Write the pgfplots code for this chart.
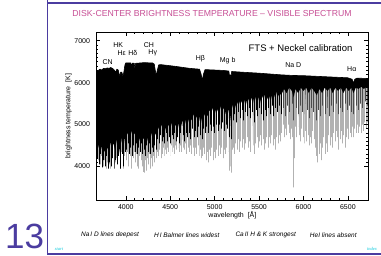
\documentclass[border=0pt]{standalone}
\usepackage{pgfplots}
\pgfplotsset{compat=1.18}
\usepackage{fontspec}
\setmainfont{Liberation Sans}
\newfontfamily\serifit{Liberation Serif}
\definecolor{titlepink}{RGB}{200,80,150}
\definecolor{slidepurple}{RGB}{75,60,160}
\definecolor{linkcyan}{RGB}{0,200,220}
\begin{document}
\begin{tikzpicture}[x=1pt,y=1pt]
\useasboundingbox (0,0) rectangle (381,256);
\fill[white] (0,0) rectangle (381,256);
\draw[slidepurple, line width=1.6pt] (47.5,256) -- (47.5,2) -- (381,2);
\draw[slidepurple, line width=1.6pt] (47.5,252.7) -- (381,252.7);
\node[anchor=base west, inner sep=0, text=slidepurple] at (5,7) {\fontsize{35}{35}\selectfont 13};
\node[text=titlepink] at (212,242) {\fontsize{8.7}{10}\selectfont DISK-CENTER BRIGHTNESS TEMPERATURE – VISIBLE SPECTRUM};
\node at (110,21) {\fontsize{6.5}{8}\selectfont\itshape Na\,I D lines deepest};
\node at (186.7,21) {\fontsize{6.5}{8}\selectfont\itshape H\,I Balmer lines widest};
\node at (265.7,21) {\fontsize{6.5}{8}\selectfont\itshape Ca\,II H \& K strongest};
\node at (333.3,21) {\fontsize{6.5}{8}\selectfont\itshape HeI lines absent};
\node[text=linkcyan] at (59,7) {\fontsize{4.5}{5}\selectfont\serifit\itshape start};
\node[text=linkcyan] at (372,7) {\fontsize{4.5}{5}\selectfont\serifit\itshape index};
\begin{axis}[
  at={(96.5pt,56pt)}, anchor=south west, width=271.8pt, height=167.7pt, scale only axis,
  xmin=3670, xmax=6730, ymin=3200, ymax=7200,
  xtick={4000,4500,5000,5500,6000,6500}, ytick={4000,5000,6000,7000},
  minor x tick num=4, minor y tick num=9,
  tick align=inside, major tick length=4pt, minor tick length=2pt,
  tick style={black, line width=0.5pt},
  axis line style={line width=0.6pt},
  tick label style={font=\fontsize{7}{8}\selectfont},
  yticklabel style={xshift=-3pt},
  xticklabel style={yshift=-1.5pt},
  /pgf/number format/1000 sep={}, /pgf/number format/assume math mode=true,
  xlabel={wavelength\ \ [Å]}, ylabel={brightness temperature\ \ [K]},
  label style={font=\fontsize{7}{8}\selectfont},
  x label style={at={(axis description cs:0.5,-0.0894)}, anchor=center},
  y label style={at={(axis description cs:-0.103,0.5)}, anchor=center},
  axis on top,
]
% deep (grey) absorption lines
\addplot[gray!60, line width=0.45pt] coordinates {
(3690,5950)(3690,4150)(3690,5950)(3712,5950)(3712,4050)(3712,5950)(3728,5950)(3728,4250)(3728,5950)(3745,5950)(3745,4000)(3745,5950)(3762,5950)(3762,4150)(3762,5950)(3778,5950)(3778,3950)(3778,5950)(3795,5950)(3795,4100)(3795,5950)(3812,5950)(3812,4050)(3812,5950)(3830,5950)(3830,3950)(3830,5950)(3848,5950)(3848,4200)(3848,5950)(3865,5950)(3865,4050)(3865,5950)(3880,5950)(3880,4100)(3880,5950)(3897,5950)(3897,4200)(3897,5950)(3915,5950)(3915,4300)(3915,5950)(3933,5950)(3933,3950)(3933,5950)(3950,5950)(3950,4350)(3950,5950)(3968,5950)(3968,3950)(3968,5950)(3985,5950)(3985,4250)(3985,5950)
(4003,5950)(4003,4150)(4003,5950)(4015,5950)(4015,4350)(4015,5950)(4030,5950)(4030,4000)(4030,5950)(4045,5950)(4045,4250)(4045,5950)(4058,5950)(4058,4100)(4058,5950)(4064,5950)(4064,3950)(4064,5950)(4078,5950)(4078,4200)(4078,5950)(4092,5950)(4092,4350)(4092,5950)(4102,5950)(4102,4100)(4102,5950)(4118,5950)(4118,4300)(4118,5950)(4130,5950)(4130,4000)(4130,5950)(4143,5950)(4143,3950)(4143,5950)(4155,5950)(4155,4250)(4155,5950)(4168,5950)(4168,4150)(4168,5950)(4180,5950)(4180,4000)(4180,5950)(4192,5950)(4192,3870)(4192,5950)(4202,5950)(4202,3850)(4202,5950)(4215,5950)(4215,4150)(4215,5950)(4226,5950)(4226,3900)(4226,5950)(4238,5950)(4238,4200)(4238,5950)(4250,5950)(4250,4050)(4250,5950)(4262,5950)(4262,4300)(4262,5950)(4272,5950)(4272,3950)(4272,5950)(4285,5950)(4285,4200)(4285,5950)(4298,5950)(4298,4000)(4298,5950)(4310,5950)(4310,4250)(4310,5950)(4325,5950)(4325,4100)(4325,5950)(4340,5950)(4340,4200)(4340,5950)
(4352,5950)(4352,4350)(4352,5950)(4366,5950)(4366,4250)(4366,5950)(4380,5950)(4380,4400)(4380,5950)(4395,5950)(4395,4200)(4395,5950)(4405,5950)(4405,4300)(4405,5950)(4418,5950)(4418,4450)(4418,5950)(4430,5950)(4430,4250)(4430,5950)(4443,5950)(4443,4400)(4443,5950)(4455,5950)(4455,4300)(4455,5950)(4468,5950)(4468,4450)(4468,5950)(4482,5950)(4482,4350)(4482,5950)(4495,5950)(4495,4250)(4495,5950)(4508,5950)(4508,4500)(4508,5950)(4520,5950)(4520,4350)(4520,5950)(4535,5950)(4535,4450)(4535,5950)(4548,5950)(4548,4300)(4548,5950)(4560,5950)(4560,4500)(4560,5950)(4572,5950)(4572,4400)(4572,5950)(4585,5950)(4585,4450)(4585,5950)(4600,5950)(4600,4350)(4600,5950)(4614,5950)(4614,4500)(4614,5950)(4628,5950)(4628,4350)(4628,5950)(4642,5950)(4642,4450)(4642,5950)(4656,5950)(4656,4400)(4656,5950)(4670,5950)(4670,4550)(4670,5950)(4685,5950)(4685,4300)(4685,5950)(4698,5950)(4698,4450)(4698,5950)
(4712,5950)(4712,4350)(4712,5950)(4726,5950)(4726,4500)(4726,5950)(4740,5950)(4740,4300)(4740,5950)(4754,5950)(4754,4450)(4754,5950)(4768,5950)(4768,4250)(4768,5950)(4782,5950)(4782,4450)(4782,5950)(4796,5950)(4796,4300)(4796,5950)(4810,5950)(4810,4500)(4810,5950)(4824,5950)(4824,4250)(4824,5950)(4838,5950)(4838,4400)(4838,5950)(4852,5950)(4852,4200)(4852,5950)(4861,5950)(4861,4250)(4861,5950)(4872,5950)(4872,4450)(4872,5950)(4886,5950)(4886,4300)(4886,5950)(4900,5950)(4900,4150)(4900,5950)(4912,5950)(4912,4350)(4912,5950)(4925,5950)(4925,4100)(4925,5950)(4938,5950)(4938,4400)(4938,5950)(4952,5950)(4952,4250)(4952,5950)(4966,5950)(4966,4450)(4966,5950)(4980,5950)(4980,4150)(4980,5950)(4994,5950)(4994,4350)(4994,5950)(5008,5950)(5008,4200)(5008,5950)(5022,5950)(5022,4400)(5022,5950)(5036,5950)(5036,4250)(5036,5950)(5050,5950)(5050,4500)(5050,5950)(5064,5950)(5064,4300)(5064,5950)(5078,5950)(5078,4450)(5078,5950)(5092,5950)(5092,4200)(5092,5950)(5106,5950)(5106,4400)(5106,5950)(5120,5950)(5120,4300)(5120,5950)(5134,5950)(5134,4450)(5134,5950)(5148,5950)(5148,4350)(5148,5950)(5160,5950)(5160,4250)(5160,5950)(5168,5950)(5168,3900)(5168,5950)(5173,5950)(5173,4000)(5173,5950)(5184,5950)(5184,3850)(5184,5950)(5195,5950)(5195,4400)(5195,5950)
(5208,5950)(5208,4450)(5208,5950)(5222,5950)(5222,4300)(5222,5950)(5236,5950)(5236,4550)(5236,5950)(5250,5950)(5250,4400)(5250,5950)(5264,5950)(5264,4650)(5264,5950)(5278,5950)(5278,4350)(5278,5950)(5292,5950)(5292,4600)(5292,5950)(5306,5950)(5306,4450)(5306,5950)(5320,5950)(5320,4650)(5320,5950)(5334,5950)(5334,4400)(5334,5950)(5348,5950)(5348,4550)(5348,5950)(5362,5950)(5362,4700)(5362,5950)(5376,5950)(5376,4450)(5376,5950)(5390,5950)(5390,4600)(5390,5950)(5404,5950)(5404,4350)(5404,5950)(5418,5950)(5418,4650)(5418,5950)(5432,5950)(5432,4500)(5432,5950)(5446,5950)(5446,4300)(5446,5950)(5460,5950)(5460,4550)(5460,5950)(5474,5950)(5474,4700)(5474,5950)(5488,5950)(5488,4450)(5488,5950)(5502,5950)(5502,4600)(5502,5950)(5516,5950)(5516,4750)(5516,5950)(5530,5950)(5530,4500)(5530,5950)(5544,5950)(5544,4650)(5544,5950)(5558,5950)(5558,4400)(5558,5950)(5572,5950)(5572,4550)(5572,5950)(5586,5950)(5586,4700)(5586,5950)(5600,5950)(5600,4450)(5600,5950)(5614,5950)(5614,4700)(5614,5950)(5628,5950)(5628,4550)(5628,5950)(5642,5950)(5642,4750)(5642,5950)(5656,5950)(5656,4500)(5656,5950)(5670,5950)(5670,4650)(5670,5950)(5684,5950)(5684,4400)(5684,5950)(5698,5950)(5698,4700)(5698,5950)(5712,5950)(5712,4550)(5712,5950)(5726,5950)(5726,4750)(5726,5950)(5740,5950)(5740,4600)(5740,5950)
(5754,5950)(5754,4800)(5754,5950)(5768,5950)(5768,5000)(5768,5950)(5782,5950)(5782,4700)(5782,5950)(5796,5950)(5796,4900)(5796,5950)(5810,5950)(5810,4750)(5810,5950)(5824,5950)(5824,5000)(5824,5950)(5838,5950)(5838,4800)(5838,5950)(5852,5950)(5852,4650)(5852,5950)(5866,5950)(5866,4900)(5866,5950)(5878,5950)(5878,4700)(5878,5950)(5890,5950)(5890,3500)(5890,5950)(5896,5950)(5896,4200)(5896,5950)(5908,5950)(5908,4950)(5908,5950)(5922,5950)(5922,4700)(5922,5950)(5936,5950)(5936,4950)(5936,5950)(5950,5950)(5950,4750)(5950,5950)(5964,5950)(5964,4600)(5964,5950)(5978,5950)(5978,4900)(5978,5950)(5992,5950)(5992,4700)(5992,5950)(6006,5950)(6006,4550)(6006,5950)(6020,5950)(6020,4850)(6020,5950)(6034,5950)(6034,4600)(6034,5950)(6048,5950)(6048,4750)(6048,5950)(6062,5950)(6062,4500)(6062,5950)(6076,5950)(6076,4700)(6076,5950)(6090,5950)(6090,4550)(6090,5950)(6104,5950)(6104,4850)(6104,5950)(6118,5950)(6118,4650)(6118,5950)(6132,5950)(6132,4450)(6132,5950)(6146,5950)(6146,4250)(6146,5950)(6160,5950)(6160,4100)(6160,5950)(6172,5950)(6172,4300)(6172,5950)(6186,5950)(6186,4550)(6186,5950)(6200,5950)(6200,4150)(6200,5950)(6214,5950)(6214,4450)(6214,5950)(6228,5950)(6228,4700)(6228,5950)(6242,5950)(6242,4300)(6242,5950)(6256,5950)(6256,4550)(6256,5950)(6270,5950)(6270,4350)(6270,5950)(6284,5950)(6284,4750)(6284,5950)(6298,5950)(6298,4500)(6298,5950)(6312,5950)(6312,4700)(6312,5950)(6326,5950)(6326,4450)(6326,5950)(6340,5950)(6340,4800)(6340,5950)(6354,5950)(6354,4600)(6354,5950)(6368,5950)(6368,4850)(6368,5950)(6382,5950)(6382,4700)(6382,5950)(6396,5950)(6396,4400)(6396,5950)(6410,5950)(6410,4650)(6410,5950)(6424,5950)(6424,4850)(6424,5950)(6438,5950)(6438,4550)(6438,5950)(6452,5950)(6452,4750)(6452,5950)(6466,5950)(6466,4450)(6466,5950)(6480,5950)(6480,4700)(6480,5950)(6494,5950)(6494,4900)(6494,5950)(6508,5950)(6508,4650)(6508,5950)(6522,5950)(6522,4800)(6522,5950)(6536,5950)(6536,4700)(6536,5950)(6552,5950)(6552,4950)(6552,5950)(6563,5950)(6563,4700)(6563,5950)(6575,5950)(6575,4900)(6575,5950)(6590,5950)(6590,4800)(6590,5950)(6604,5950)(6604,5000)(6604,5950)(6618,5950)(6618,4800)(6618,5950)(6632,5950)(6632,4950)(6632,5950)(6646,5950)(6646,4800)(6646,5950)(6660,5950)(6660,5000)(6660,5950)(6674,5950)(6674,4850)(6674,5950)(6688,5950)(6688,5050)(6688,5950)(6702,5950)(6702,4900)(6702,5950)(6716,5950)(6716,5050)(6716,5950)
};
% medium (black) absorption lines, blue and green part
\addplot[black, line width=0.45pt] coordinates {
(3680,5950)(3680,4200)(3680,5950)(3697,5950)(3697,4050)(3697,5950)(3714,5950)(3714,4300)(3714,5950)(3731,5950)(3731,3980)(3731,5950)(3748,5950)(3748,4150)(3748,5950)(3765,5950)(3765,4000)(3765,5950)(3782,5950)(3782,4250)(3782,5950)(3799,5950)(3799,3950)(3799,5950)(3816,5950)(3816,4100)(3816,5950)(3833,5950)(3833,4000)(3833,5950)(3850,5950)(3850,4200)(3850,5950)(3867,5950)(3867,3950)(3867,5950)(3884,5950)(3884,4150)(3884,5950)(3901,5950)(3901,4050)(3901,5950)(3920,5950)(3920,4250)(3920,5950)(3933,5950)(3933,3950)(3933,5950)(3955,5950)(3955,4300)(3955,5950)(3968,5950)(3968,4000)(3968,5950)(3990,5950)(3990,4350)(3990,5950)
(4010,5950)(4010,4400)(4010,5950)(4025,5950)(4025,4550)(4025,5950)(4040,5950)(4040,4300)(4040,5950)(4055,5950)(4055,4450)(4055,5950)(4070,5950)(4070,4250)(4070,5950)(4085,5950)(4085,4500)(4085,5950)(4102,5950)(4102,4350)(4102,5950)(4115,5950)(4115,4550)(4115,5950)(4130,5950)(4130,4300)(4130,5950)(4145,5950)(4145,4450)(4145,5950)(4160,5950)(4160,4350)(4160,5950)(4175,5950)(4175,4550)(4175,5950)(4190,5950)(4190,4300)(4190,5950)(4205,5950)(4205,4400)(4205,5950)(4220,5950)(4220,4250)(4220,5950)(4235,5950)(4235,4500)(4235,5950)(4250,5950)(4250,4350)(4250,5950)(4265,5950)(4265,4550)(4265,5950)(4280,5950)(4280,4300)(4280,5950)(4295,5950)(4295,4450)(4295,5950)(4310,5950)(4310,4350)(4310,5950)(4325,5950)(4325,4500)(4325,5950)(4340,5950)(4340,4400)(4340,5950)
(4358,5950)(4358,4650)(4358,5950)(4374,5950)(4374,4550)(4374,5950)(4390,5950)(4390,4750)(4390,5950)(4406,5950)(4406,4600)(4406,5950)(4422,5950)(4422,4700)(4422,5950)(4438,5950)(4438,4550)(4438,5950)(4454,5950)(4454,4800)(4454,5950)(4470,5950)(4470,4600)(4470,5950)(4486,5950)(4486,4700)(4486,5950)(4502,5950)(4502,4550)(4502,5950)(4518,5950)(4518,4750)(4518,5950)(4534,5950)(4534,4650)(4534,5950)(4550,5950)(4550,4800)(4550,5950)(4566,5950)(4566,4600)(4566,5950)(4582,5950)(4582,4700)(4582,5950)(4598,5950)(4598,4550)(4598,5950)(4614,5950)(4614,4800)(4614,5950)(4630,5950)(4630,4650)(4630,5950)(4646,5950)(4646,4750)(4646,5950)(4662,5950)(4662,4600)(4662,5950)(4678,5950)(4678,4800)(4678,5950)(4694,5950)(4694,4700)(4694,5950)
(4712,5950)(4712,4800)(4712,5950)(4730,5950)(4730,4650)(4730,5950)(4748,5950)(4748,4900)(4748,5950)(4766,5950)(4766,4700)(4766,5950)(4784,5950)(4784,4850)(4784,5950)(4802,5950)(4802,4700)(4802,5950)(4820,5950)(4820,4950)(4820,5950)(4838,5950)(4838,4750)(4838,5950)(4856,5950)(4856,4650)(4856,5950)(4874,5950)(4874,4900)(4874,5950)(4892,5950)(4892,4800)(4892,5950)(4910,5950)(4910,4950)(4910,5950)(4928,5950)(4928,4800)(4928,5950)(4946,5950)(4946,5000)(4946,5950)(4964,5950)(4964,4850)(4964,5950)(4982,5950)(4982,4950)(4982,5950)(5000,5950)(5000,4800)(5000,5950)(5018,5950)(5018,5000)(5018,5950)(5036,5950)(5036,4850)(5036,5950)(5054,5950)(5054,5000)(5054,5950)(5072,5950)(5072,4900)(5072,5950)(5090,5950)(5090,5050)(5090,5950)(5108,5950)(5108,4850)(5108,5950)(5126,5950)(5126,5000)(5126,5950)(5144,5950)(5144,4900)(5144,5950)(5167,5950)(5167,4700)(5167,5950)(5183,5950)(5183,4650)(5183,5950)
(5205,5950)(5205,5100)(5205,5950)(5225,5950)(5225,5250)(5225,5950)(5245,5950)(5245,5050)(5245,5950)(5265,5950)(5265,5300)(5265,5950)(5285,5950)(5285,5150)(5285,5950)(5305,5950)(5305,5350)(5305,5950)(5325,5950)(5325,5100)(5325,5950)(5345,5950)(5345,5300)(5345,5950)(5365,5950)(5365,5200)(5365,5950)(5385,5950)(5385,5400)(5385,5950)(5405,5950)(5405,5150)(5405,5950)(5425,5950)(5425,5300)(5425,5950)(5445,5950)(5445,5050)(5445,5950)(5465,5950)(5465,5350)(5465,5950)(5485,5950)(5485,5200)(5485,5950)(5505,5950)(5505,5400)(5505,5950)(5525,5950)(5525,5250)(5525,5950)(5545,5950)(5545,5100)(5545,5950)(5565,5950)(5565,5350)(5565,5950)(5585,5950)(5585,5200)(5585,5950)(5605,5950)(5605,5400)(5605,5950)(5625,5950)(5625,5250)(5625,5950)(5645,5950)(5645,5450)(5645,5950)(5665,5950)(5665,5200)(5665,5950)(5685,5950)(5685,5400)(5685,5950)(5705,5950)(5705,5300)(5705,5950)(5725,5950)(5725,5450)(5725,5950)(5745,5950)(5745,5250)(5745,5950)
};
% medium lines, red part (lighter in the reference)
\addplot[black!70, line width=0.4pt] coordinates {
(5770,5950)(5770,5400)(5770,5950)(5795,5950)(5795,5200)(5795,5950)(5820,5950)(5820,5450)(5820,5950)(5845,5950)(5845,5300)(5845,5950)(5870,5950)(5870,5500)(5870,5950)(5890,5950)(5890,5100)(5890,5950)(5915,5950)(5915,5400)(5915,5950)(5940,5950)(5940,5250)(5940,5950)(5965,5950)(5965,5450)(5965,5950)(5990,5950)(5990,5300)(5990,5950)(6015,5950)(6015,5500)(6015,5950)(6040,5950)(6040,5350)(6040,5950)(6065,5950)(6065,5150)(6065,5950)(6090,5950)(6090,5400)(6090,5950)(6115,5950)(6115,5300)(6115,5950)(6140,5950)(6140,5100)(6140,5950)(6165,5950)(6165,5350)(6165,5950)(6190,5950)(6190,5200)(6190,5950)(6215,5950)(6215,5450)(6215,5950)(6240,5950)(6240,5250)(6240,5950)(6265,5950)(6265,5400)(6265,5950)(6290,5950)(6290,5200)(6290,5950)(6315,5950)(6315,5450)(6315,5950)(6340,5950)(6340,5300)(6340,5950)(6365,5950)(6365,5500)(6365,5950)(6390,5950)(6390,5250)(6390,5950)(6415,5950)(6415,5400)(6415,5950)(6440,5950)(6440,5300)(6440,5950)(6465,5950)(6465,5500)(6465,5950)(6490,5950)(6490,5350)(6490,5950)(6515,5950)(6515,5450)(6515,5950)(6540,5950)(6540,5300)(6540,5950)(6563,5950)(6563,5250)(6563,5950)(6590,5950)(6590,5450)(6590,5950)(6615,5950)(6615,5350)(6615,5950)(6640,5950)(6640,5500)(6640,5950)(6665,5950)(6665,5400)(6665,5950)(6690,5950)(6690,5550)(6690,5950)(6715,5950)(6715,5450)(6715,5950)
};
% dense line blanket: continuum (left to right) then lower envelope (right to left)
\addplot[fill=black, draw=none] coordinates {
(3670,6260)(3690,6290)(3710,6320)(3730,6300)(3750,6340)(3770,6330)(3790,6350)(3810,6340)(3830,6360)(3850,6340)(3870,6300)(3885,6250)(3900,6320)(3915,6300)(3925,6200)(3933,6150)(3942,6250)(3955,6250)(3968,6150)(3978,6250)(3990,6420)(4000,6470)(4055,6470)(4063,6380)(4072,6465)(4095,6460)(4102,6330)(4110,6460)(4200,6475)(4300,6470)(4320,6440)(4335,6250)(4342,6150)(4350,6250)(4370,6420)(4390,6430)(4450,6415)(4550,6390)(4650,6360)(4720,6340)(4830,6320)(4848,6200)(4861,6050)(4874,6200)(4892,6310)(5000,6300)(5100,6290)(5160,6275)(5168,6150)(5176,6180)(5184,6130)(5192,6265)(5300,6250)(5500,6225)(5750,6185)(5885,6170)(5890,6110)(5896,6170)(6000,6165)(6300,6135)(6500,6115)(6548,6080)(6563,5990)(6578,6080)(6600,6105)(6730,6100)
(6730,5880)(6710,5900)(6680,5850)(6650,5900)(6620,5850)(6590,5880)(6563,5750)(6540,5880)(6510,5800)(6480,5880)(6450,5750)(6420,5880)(6390,5800)(6360,5880)(6330,5750)(6300,5880)(6270,5800)(6240,5880)(6210,5750)(6180,5850)(6150,5700)(6120,5800)(6090,5880)(6060,5750)(6030,5880)(6000,5800)(5970,5880)(5940,5750)(5910,5850)(5890,5650)(5870,5800)(5840,5880)(5810,5750)(5780,5850)(5750,5700)(5730,5750)(5710,5650)(5690,5800)(5670,5650)(5650,5750)(5630,5550)(5610,5700)(5590,5600)(5570,5750)(5550,5600)(5530,5700)(5510,5500)(5490,5650)(5470,5550)(5450,5700)(5430,5500)(5410,5650)(5390,5550)(5370,5650)(5350,5450)(5330,5600)(5310,5500)(5290,5600)(5270,5450)(5250,5550)(5230,5400)(5210,5500)(5190,5350)(5175,5100)(5160,5300)(5140,5450)(5120,5250)(5100,5400)(5080,5300)(5060,5450)(5040,5300)(5020,5400)(5000,5250)(4980,5400)(4960,5250)(4940,5350)(4920,5200)(4900,5300)(4880,5200)(4861,5000)(4840,5250)(4820,5050)(4800,5200)(4780,5100)(4760,5250)(4740,5100)(4720,5200)(4700,5050)(4680,5150)(4660,4950)(4640,5100)(4620,4950)(4600,5050)(4580,4850)(4560,5000)(4540,4900)(4520,5050)(4500,4900)(4480,5000)(4460,4800)(4440,4950)(4420,4850)(4400,5000)(4380,4850)(4360,4950)(4340,4800)(4320,4700)(4300,4850)(4280,4700)(4260,4800)(4240,4600)(4220,4750)(4200,4650)(4180,4800)(4160,4600)(4140,4750)(4120,4650)(4100,4800)(4080,4700)(4060,4850)(4040,4650)(4020,4800)(4000,4700)(3985,4650)(3968,4350)(3950,4700)(3935,4300)(3920,4500)(3900,4650)(3880,4400)(3860,4550)(3840,4450)(3820,4600)(3800,4400)(3780,4500)(3760,4350)(3740,4550)(3720,4400)(3705,4600)(3690,4450)(3670,4550)
} -- cycle;
% continuum edge
\addplot[black, line width=0.6pt] coordinates {
(3670,6260)(3690,6290)(3710,6320)(3730,6300)(3750,6340)(3770,6330)(3790,6350)(3810,6340)(3830,6360)(3850,6340)(3870,6300)(3885,6250)(3900,6320)(3915,6300)(3925,6200)(3933,6150)(3942,6250)(3955,6250)(3968,6150)(3978,6250)(3990,6420)(4000,6470)(4055,6470)(4063,6380)(4072,6465)(4095,6460)(4102,6330)(4110,6460)(4200,6475)(4300,6470)(4320,6440)(4335,6250)(4342,6150)(4350,6250)(4370,6420)(4390,6430)(4450,6415)(4550,6390)(4650,6360)(4720,6340)(4830,6320)(4848,6200)(4861,6050)(4874,6200)(4892,6310)(5000,6300)(5100,6290)(5160,6275)(5168,6150)(5176,6180)(5184,6130)(5192,6265)(5300,6250)(5500,6225)(5750,6185)(5885,6170)(5890,6110)(5896,6170)(6000,6165)(6300,6135)(6500,6115)(6548,6080)(6563,5990)(6578,6080)(6600,6105)(6730,6100)
};
\node[font=\fontsize{9.5}{11}\selectfont] at (axis cs:5967,6833) {FTS + Neckel calibration};
\node[font=\fontsize{7}{8}\selectfont] at (axis cs:3796,6499) {CN};
\node[font=\fontsize{7}{8}\selectfont] at (axis cs:3915,6897) {HK};
\node[font=\fontsize{7}{8}\selectfont] at (axis cs:3954,6699) {Hε};
\node[font=\fontsize{7}{8}\selectfont] at (axis cs:4078,6699) {Hδ};
\node[font=\fontsize{7}{8}\selectfont] at (axis cs:4261,6897) {CH};
\node[font=\fontsize{7}{8}\selectfont] at (axis cs:4303,6699) {Hγ};
\node[font=\fontsize{7}{8}\selectfont] at (axis cs:4839,6580) {Hβ};
\node[font=\fontsize{7}{8}\selectfont] at (axis cs:5147,6516) {Mg b};
\node[font=\fontsize{7}{8}\selectfont] at (axis cs:5886,6420) {Na D};
\node[font=\fontsize{7}{8}\selectfont] at (axis cs:6544,6318) {Hα};
\end{axis}
\end{tikzpicture}
\end{document}
